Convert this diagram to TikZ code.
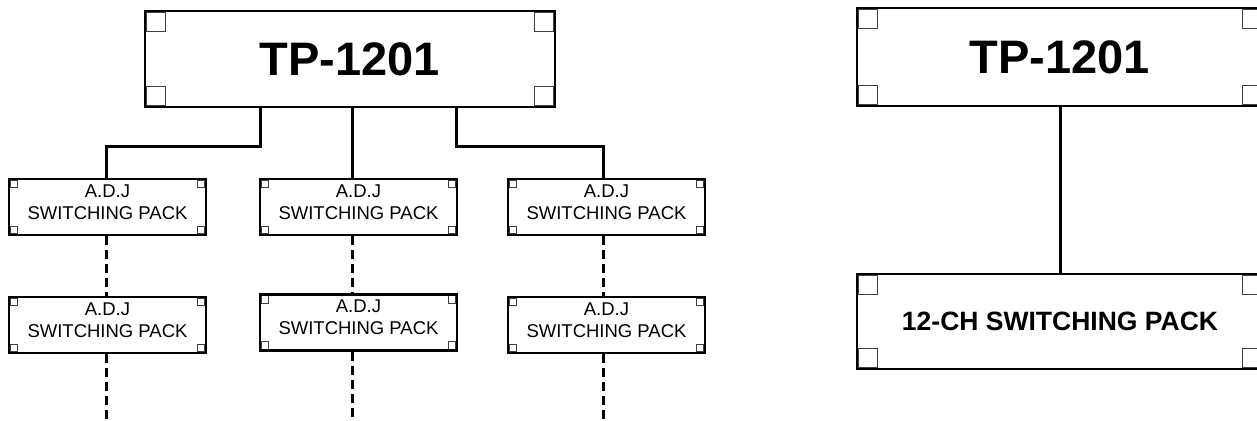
\documentclass[tikz,border=0pt]{standalone}
\usepackage{fontspec}
\setmainfont{Liberation Sans}
\begin{document}
\begin{tikzpicture}[x=1pt,y=-1pt,
  corners/.style={path picture={
    \foreach \a/\sx/\sy in {north west/1/-1,north east/-1/-1,south west/1/1,south east/-1/1}
      \draw[line width=0.9pt,draw=black!75]
        ([shift={(\sx*1.4pt,\sy*1.4pt)}]path picture bounding box.\a)
        rectangle ++(\sx*#1,\sy*#1);}},
  bigbox/.style={draw,line width=2.8pt,fill=white,inner sep=0pt,
    minimum width=410pt,minimum height=96pt,corners=19pt},
  adjbox/.style={draw,line width=2.6pt,fill=white,inner sep=0pt,
    minimum width=197pt,minimum height=56pt,corners=7.5pt,
    label={[font=\fontsize{18.5}{22}\selectfont,align=center,yshift=5pt]center:A.D.J\\SWITCHING PACK}},
  bigtext/.style={font=\fontsize{47}{50}\selectfont\bfseries},
  conn/.style={line width=3pt},
  dconn/.style={line width=3pt,dash pattern=on 9pt off 5pt}]
\useasboundingbox (0,0) rectangle (1257,420);
\clip (0,0) rectangle (1257,420);
% left tree
\node[bigbox,bigtext] (T1) at (350,59) {TP-1201};
\node[adjbox] (A1) at (107.5,207) {};
\node[adjbox] (A2) at (358.5,207) {};
\node[adjbox] (A3) at (606.5,207) {};
\node[adjbox] (A4) at (107.5,325) {};
\node[adjbox] (A5) at (358.5,322.5) {};
\node[adjbox] (A6) at (606.5,325) {};
\coordinate (E1) at (106,424);
\coordinate (E2) at (352,424);
\coordinate (E3) at (603,424);
\draw[conn] ([xshift=-90pt]T1.south) -- ++(0,38) -| ([xshift=-1.5pt]A1.north);
\draw[conn] ([xshift=2pt]T1.south) -- ([xshift=2pt]T1.south |- A2.north);
\draw[conn] ([xshift=106pt]T1.south) -- ++(0,38) -| ([xshift=-3.5pt]A3.north);
\draw[dconn] ([xshift=-1.5pt]A1.south) -- ([xshift=-1.5pt]A1.south |- A4.north);
\draw[dconn] ([xshift=-6.5pt]A2.south) -- ([xshift=-6.5pt]A2.south |- A5.north);
\draw[dconn] ([xshift=-3.5pt]A3.south) -- ([xshift=-3.5pt]A3.south |- A6.north);
\draw[dconn] ([xshift=-1.5pt]A4.south) -- (E1);
\draw[dconn] ([xshift=-6.5pt]A5.south) -- (E2);
\draw[dconn] ([xshift=-3.5pt]A6.south) -- (E3);
% right tree
\node[bigbox,bigtext,minimum width=406pt,minimum height=98pt] (T2) at (1060,57) {TP-1201};
\node[bigbox,minimum width=406pt,minimum height=95pt,font=\fontsize{26.5}{30}\selectfont\bfseries] (P) at (1060,321.5) {12-CH SWITCHING PACK};
\draw[conn] (T2.south) -- (P.north);
\end{tikzpicture}
\end{document}
